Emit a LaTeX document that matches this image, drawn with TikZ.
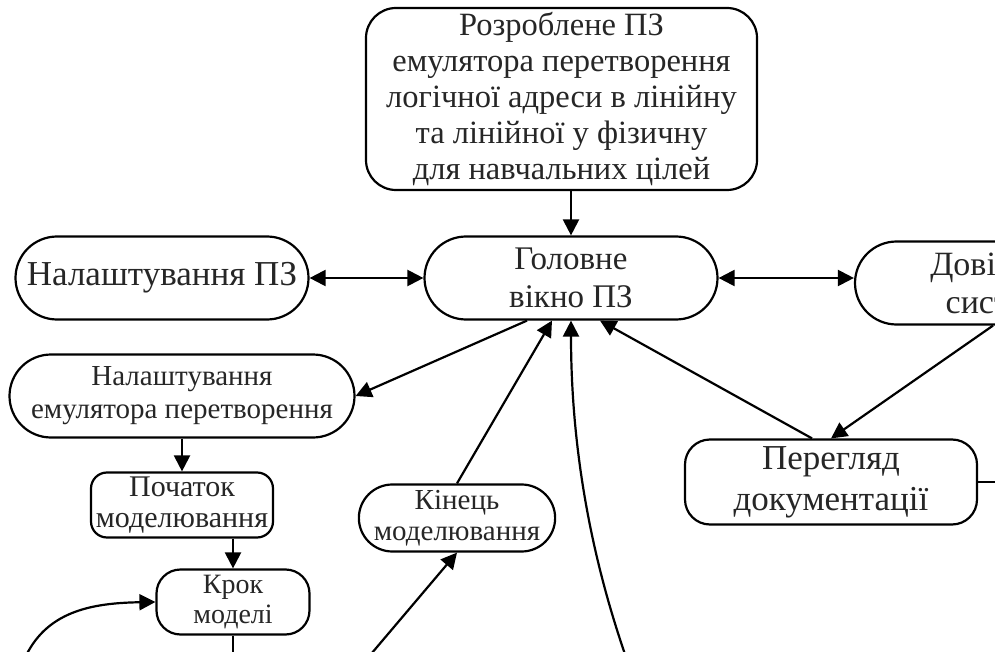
\documentclass[tikz,border=0pt]{standalone}
\usepackage{fontspec}
\setmainfont{Liberation Serif}
\usetikzlibrary{shapes.misc,arrows.meta,calc}
\newcommand\fsz[2]{\fontsize{#1}{#2}\selectfont}
\tikzset{
  box/.style={draw, line width=2.2pt, align=center, inner sep=0pt, text=black!85},
  stad/.style={box, rounded rectangle},
  rbox/.style={box, rectangle},
  conn/.style={line width=2.2pt, -{Triangle[length=16pt,width=16pt]}},
  dconn/.style={line width=2.2pt, {Triangle[length=16pt,width=16pt]}-{Triangle[length=16pt,width=16pt]}},
  plain/.style={line width=2.2pt}
}
\begin{document}
\begin{tikzpicture}[x=1pt,y=-1pt]
\useasboundingbox (0,0) rectangle (995,652);
\clip (0,0) rectangle (995,652);
\fill[white] (0,0) rectangle (995,652);

\node[rbox, rounded corners=30pt, minimum width=391pt, minimum height=182pt, font=\fsz{32.5}{36}] (top) at (561.5,99)
  {Розроблене ПЗ\\емулятора перетворення\\логічної адреси в лінійну\\та лінійної у фізичну\\для навчальних цілей};
\node[stad, minimum width=293pt, minimum height=83pt, font=\fsz{33}{38}] (glav) at (571,278) {Головне\\вікно ПЗ};
\node[stad, minimum width=293pt, minimum height=83pt, font=\fsz{35}{40}] (nalpz) at (162,278) {Налаштування ПЗ};
\node[stad, minimum width=296pt, minimum height=83pt, font=\fsz{34}{38}] (dov) at (1003,283) {Довідкова\\система};
\node[rbox, rounded corners=25pt, minimum width=292pt, minimum height=85pt, font=\fsz{35}{41}] (per) at (831,482) {Перегляд\\документації};
\node[stad, minimum width=345pt, minimum height=83pt, font=\fsz{29}{33}] (nemul) at (182,396) {Налаштування\\емулятора перетворення};
\node[rbox, rounded corners=16pt, minimum width=182pt, minimum height=65pt, font=\fsz{30}{31}] (poch) at (182,505) {Початок\\моделювання};
\node[rbox, rounded corners=24pt, minimum width=153pt, minimum height=65pt, font=\fsz{28}{30}] (krok) at (233,602) {Крок\\моделі};
\node[stad, minimum width=190pt, minimum height=67pt, font=\fsz{29}{31}] (kin) at (457,518) {Кінець\\моделювання};

\coordinate (cA) at (627,660);
\coordinate (cB) at (24,660);
\coordinate (cC) at (366,660);
\coordinate (cD) at (233,660);
\coordinate (cE) at (1000,482);

\draw[conn] (glav.north |- top.south) -- (glav.north);
\draw[dconn] (nalpz.east) -- (glav.west);
\draw[dconn] (glav.east) -- (dov.west |- glav.east);
\draw[conn] ($(glav.south)+(-44,0)$) -- (nemul.east);
\draw[conn] (nemul.south) -- (poch.north);
\draw[conn] ($(poch.south)+(51,0)$) -- (krok.north);
\draw[plain] (krok.south) -- (cD);
\draw[conn] (cB) .. controls (45,612) and (90,603) .. (krok.west);
\draw[conn] (kin.north) -- ($(glav.south)+(-19,0)$);
\draw[conn] (cC) -- (kin.south);
\draw[conn] (cA) .. controls (585,540) and (571,430) .. (glav.south);
\draw[conn] ($(per.north)+(-19,0)$) -- ($(glav.south)+(29,0)$);
\draw[conn] ($(dov.south)+(-10,0)$) -- (per.north);
\draw[plain] (per.east) -- (cE);
\end{tikzpicture}
\end{document}
